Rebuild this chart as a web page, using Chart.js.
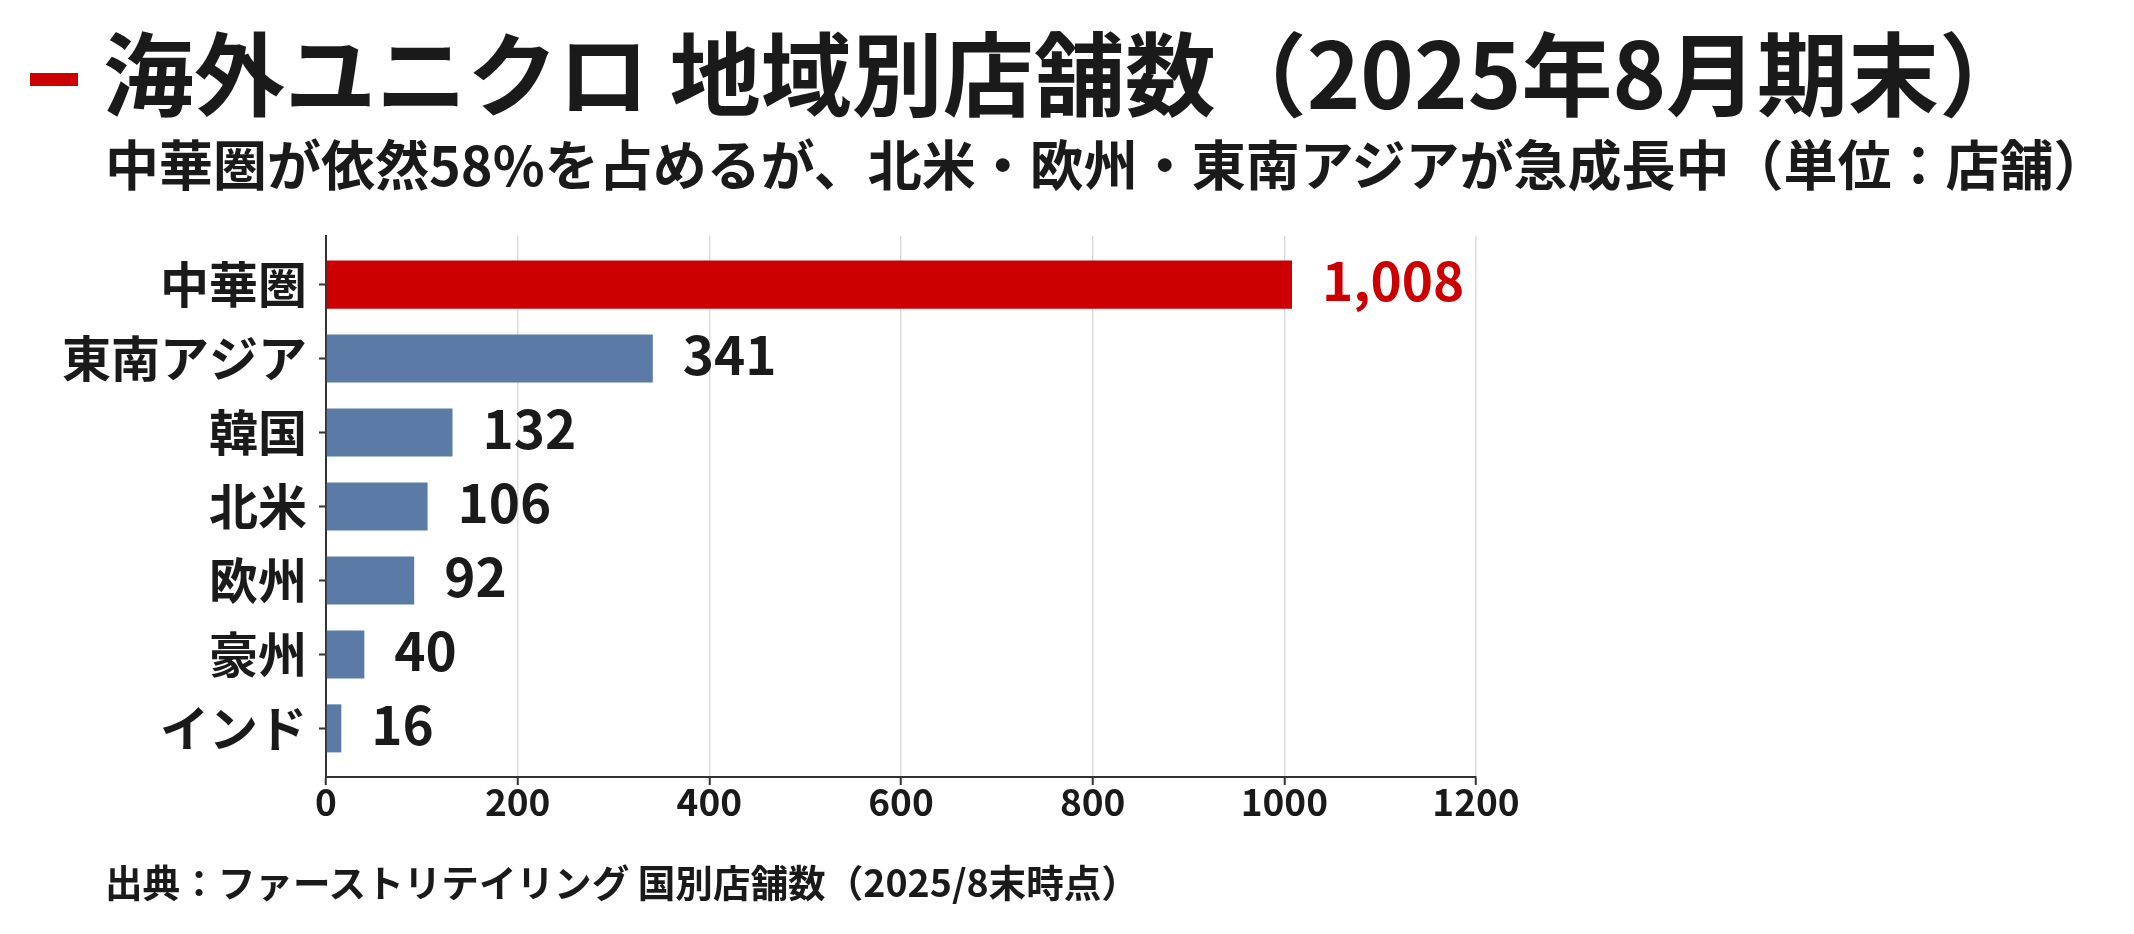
<!DOCTYPE html>
<html lang="ja">
<head>
    <meta charset="UTF-8">
    <title>海外ユニクロ 地域別店舗数</title>
    <script src="https://cdn.jsdelivr.net/npm/chart.js"></script>
    <style>
        html, body { margin: 0; padding: 0; background: #fff; }
        body { width: 2134px; height: 934px; position: relative; overflow: hidden;
               font-family: "Noto Sans CJK JP", sans-serif; color: #1a1a1a; }
        .mark { position: absolute; left: 30px; top: 73px; width: 48px; height: 13px; background: #cc0000; }
        .title { position: absolute; left: 103px; top: 24px; font-size: 91px; font-weight: 700; line-height: 1; white-space: nowrap; }
        .subtitle { position: absolute; left: 105px; top: 136px; font-size: 54px; font-weight: 700; line-height: 1; white-space: nowrap; }
        .source { position: absolute; left: 105px; top: 862px; font-size: 37.6px; font-weight: 700; line-height: 1; white-space: nowrap; }
        #chart { position: absolute; left: 0; top: 0; }
    </style>
</head>
<body>
    <!-- Header -->
    <div class="mark"></div>
    <div class="title">海外ユニクロ 地域別店舗数（2025年8月期末）</div>
    <div class="subtitle">中華圏が依然58%を占めるが、北米・欧州・東南アジアが急成長中（単位：店舗）</div>

    <canvas id="chart" width="2134" height="934"></canvas>

    <div class="source">出典：ファーストリテイリング 国別店舗数（2025/8末時点）</div>

    <script>
        // Data
        const regions = ['中華圏', '東南アジア', '韓国', '北米', '欧州', '豪州', 'インド'];
        const storeCounts = [1008, 341, 132, 106, 92, 40, 16];
        const xTicks = [0, 200, 400, 600, 800, 1000, 1200];
        const highlightRegion = '中華圏';

        // Colours
        const red = '#cc0000';
        const blue = '#5b7ba6';
        const ink = '#1a1a1a';
        const axisColor = '#333333';

        Chart.defaults.font.family = '"Noto Sans CJK JP", sans-serif';
        Chart.defaults.color = ink;

        // numbers at the end of each bar
        const valueLabels = {
            id: 'valueLabels',
            afterDatasetsDraw(chart) {
                const ctx = chart.ctx;
                const meta = chart.getDatasetMeta(0);
                ctx.save();
                ctx.font = 'bold 53px "Noto Sans CJK JP", sans-serif';
                ctx.textBaseline = 'middle';
                ctx.textAlign = 'left';
                meta.data.forEach((bar, i) => {
                    ctx.fillStyle = regions[i] === highlightRegion ? red : ink;
                    ctx.fillText(storeCounts[i].toLocaleString('en-US'), bar.x + 30, bar.y - 4);
                });
                ctx.restore();
            }
        };

        new Chart(document.getElementById('chart'), {
            type: 'bar',
            data: {
                datasets: [{
                    data: regions.map((r, i) => ({ x: storeCounts[i], y: i })),
                    backgroundColor: regions.map(r => r === highlightRegion ? red : blue),
                    borderWidth: 0,
                    barPercentage: 0.65,
                    categoryPercentage: 1
                }]
            },
            options: {
                indexAxis: 'y',
                responsive: false,
                animation: false,
                devicePixelRatio: 1,
                layout: { padding: { top: 236, right: 658, bottom: 0, left: 0 } },
                plugins: {
                    legend: { display: false },
                    tooltip: { enabled: false }
                },
                scales: {
                    x: {
                        type: 'linear',
                        min: 0,
                        max: 1200,
                        afterBuildTicks: s => { s.ticks = xTicks.map(v => ({ value: v })); },
                        afterFit: s => { s.height = 157; },
                        grid: { color: '#dddddd', lineWidth: 1.5, tickColor: axisColor, tickLength: 8, tickWidth: 2 },
                        border: { color: axisColor, width: 2 },
                        ticks: {
                            font: { size: 37, weight: 'bold' },
                            color: ink,
                            padding: -5,
                            maxRotation: 0,
                            callback: v => String(v)
                        }
                    },
                    y: {
                        type: 'linear',
                        reverse: true,
                        offset: false,
                        min: -0.6575,
                        max: 6.6575,
                        afterBuildTicks: s => { s.ticks = regions.map((r, i) => ({ value: i })); },
                        afterFit: s => { s.width = 326; },
                        grid: { offset: false, drawOnChartArea: false, tickColor: axisColor, tickLength: 7, tickWidth: 2 },
                        border: { color: axisColor, width: 2 },
                        ticks: {
                            font: { size: 49, weight: 'bold' },
                            color: ink,
                            padding: 12,
                            callback: v => regions[v]
                        }
                    }
                }
            },
            plugins: [valueLabels]
        });
    </script>
</body>
</html>
